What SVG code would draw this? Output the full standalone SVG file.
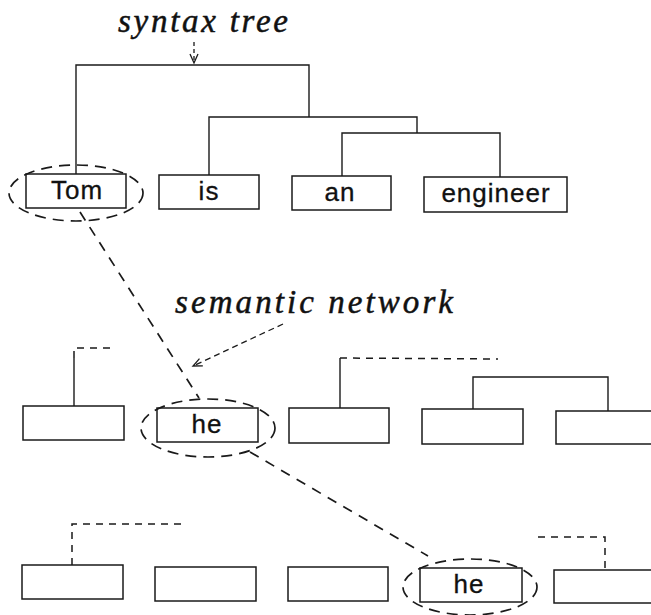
<svg xmlns="http://www.w3.org/2000/svg" width="651" height="615" viewBox="0 0 651 615">
<defs>
<style>
.box{fill:none;stroke:#1a1a1a;stroke-width:1.5}
.ln{fill:none;stroke:#1a1a1a;stroke-width:1.4}
.dsh{fill:none;stroke:#1a1a1a;stroke-width:1.5;stroke-dasharray:7 6}
.big{fill:none;stroke:#1a1a1a;stroke-width:1.7;stroke-dasharray:10 8}
.ell{fill:none;stroke:#1a1a1a;stroke-width:1.7;stroke-dasharray:11 7}
.arr{fill:none;stroke:#1a1a1a;stroke-width:1.3;stroke-dasharray:6 4}
.lbl{font-family:"Liberation Sans",Arial,sans-serif;font-size:26px;fill:#111;stroke:#111;stroke-width:0.3;text-anchor:middle;letter-spacing:1px}
.ttl{font-family:"Liberation Serif","Times New Roman",serif;font-style:italic;font-size:33px;fill:#111;stroke:#111;stroke-width:0.5}
</style>
<marker id="vh" markerWidth="12" markerHeight="12" refX="10" refY="5" orient="auto" markerUnits="userSpaceOnUse">
<path d="M1,1 L10,5 L1,9" fill="none" stroke="#1a1a1a" stroke-width="1.3"/>
</marker>
</defs>

<g id="titles">
<text class="ttl" x="118" y="32" textLength="170" lengthAdjust="spacing">syntax tree</text>
<text class="ttl" x="175" y="313" textLength="278" lengthAdjust="spacing">semantic network</text>
</g>

<g id="connectors">
<!-- syntax tree arrow -->
<line class="arr" x1="194" y1="42" x2="194" y2="63" marker-end="url(#vh)" style="stroke-dasharray:4 3"/>
<!-- syntax tree -->
<polyline class="ln" points="76,174 76,65 309,65 309,117"/>
<polyline class="ln" points="209,175 209,117 417,117 417,133"/>
<polyline class="ln" points="342,176 342,133 500,133 500,177"/>
<!-- semantic arrow -->
<line class="arr" x1="283" y1="324" x2="193" y2="366" marker-end="url(#vh)"/>
<!-- Tom to he -->
<line class="big" x1="80" y1="212" x2="199" y2="398"/>
<!-- he to he -->
<line class="big" x1="250" y1="452" x2="428" y2="556"/>
<!-- row 2 -->
<line class="ln" x1="74" y1="358" x2="74" y2="406"/>
<polyline class="dsh" points="74,358 74,348 110,348"/>
<line class="ln" x1="340" y1="358" x2="340" y2="408"/>
<line class="dsh" x1="340" y1="358" x2="498" y2="359"/>
<polyline class="ln" points="473,409 473,377 608,377 608,411"/>
<!-- row 3 -->
<polyline class="dsh" points="72,565 72,524 182,524"/>
<polyline class="dsh" points="538,537 605,537 605,570"/>
</g>

<g id="n-tom">
<rect class="box" x="26" y="174" width="100" height="34"/>
<text class="lbl" x="77" y="199">Tom</text>
<ellipse class="ell" cx="76" cy="193" rx="67" ry="28"/>
</g>
<g id="n-is">
<rect class="box" x="159" y="175" width="100" height="34"/>
<text class="lbl" x="209" y="200">is</text>
</g>
<g id="n-an">
<rect class="box" x="292" y="176" width="99" height="34"/>
<text class="lbl" x="340" y="201">an</text>
</g>
<g id="n-engineer">
<rect class="box" x="424" y="177" width="143" height="35"/>
<text class="lbl" x="496" y="202">engineer</text>
</g>

<g id="n-s1">
<rect class="box" x="23" y="406" width="101" height="34"/>
</g>
<g id="n-he1">
<rect class="box" x="157" y="408" width="101" height="34"/>
<text class="lbl" x="207" y="433">he</text>
<ellipse class="ell" cx="208" cy="428" rx="67" ry="29"/>
</g>
<g id="n-s3">
<rect class="box" x="289" y="408" width="100" height="35"/>
</g>
<g id="n-s4">
<rect class="box" x="422" y="409" width="101" height="35"/>
</g>
<g id="n-s5">
<rect class="box" x="556" y="411" width="110" height="33"/>
</g>

<g id="n-t1">
<rect class="box" x="22" y="565" width="101" height="34"/>
</g>
<g id="n-t2">
<rect class="box" x="155" y="567" width="101" height="34"/>
</g>
<g id="n-t3">
<rect class="box" x="288" y="567" width="100" height="34"/>
</g>
<g id="n-he2">
<rect class="box" x="420" y="568" width="102" height="34"/>
<text class="lbl" x="469" y="593">he</text>
<ellipse class="ell" cx="470" cy="587" rx="67" ry="28"/>
</g>
<g id="n-t5">
<rect class="box" x="554" y="570" width="110" height="33"/>
</g>
</svg>
